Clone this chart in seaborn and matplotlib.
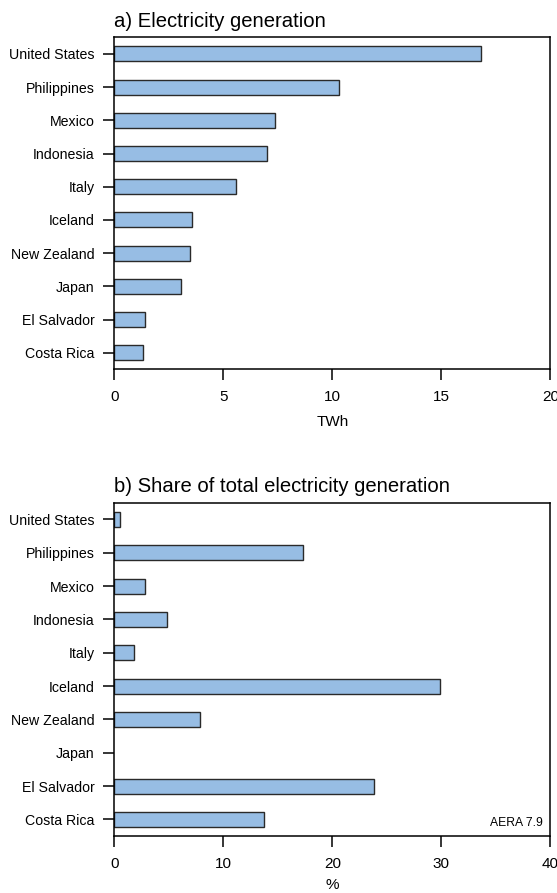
import matplotlib
matplotlib.use('Agg')
import matplotlib.pyplot as plt
import seaborn as sns
import pandas as pd

# data
countries = ['United States', 'Philippines', 'Mexico', 'Indonesia', 'Italy',
             'Iceland', 'New Zealand', 'Japan', 'El Salvador', 'Costa Rica']
generation_twh = [16.8, 10.3, 7.35, 7.0, 5.6, 3.55, 3.45, 3.05, 1.4, 1.3]
share_pct = [0.55, 17.3, 2.8, 4.85, 1.8, 29.9, 7.9, 0.0, 23.8, 13.7]

gen_ticks = [0, 5, 10, 15, 20]
share_ticks = [0, 10, 20, 30, 40]

sns.set_style('ticks')
plt.rcParams['font.family'] = ['Liberation Sans', 'DejaVu Sans']
plt.rcParams['text.color'] = 'black'
plt.rcParams['xtick.color'] = 'black'
plt.rcParams['ytick.color'] = 'black'
plt.rcParams['axes.labelcolor'] = 'black'
plt.rcParams['axes.linewidth'] = 1.1
plt.rcParams['xtick.major.width'] = 1.1
plt.rcParams['ytick.major.width'] = 1.1

bar_color = '#97bde4'
edge_color = '#2a2a2a'

df = pd.DataFrame({'country': countries, 'twh': generation_twh, 'share': share_pct})

fig = plt.figure(figsize=(5.57, 8.93), dpi=100)
ax1 = fig.add_axes([0.2052, 0.5864, 0.7828, 0.3718])
ax2 = fig.add_axes([0.2052, 0.0638, 0.7828, 0.3733])


def draw_panel(ax, col, ticks, title, xlabel, labelpad):
    sns.barplot(data=df, x=col, y='country', orient='h', color=bar_color,
                saturation=1, edgecolor=edge_color, linewidth=1.0,
                width=0.45, ax=ax)
    # no visible bar where the value is zero
    for p in ax.patches:
        if p.get_width() == 0:
            p.set_visible(False)
    ax.set_xlim(ticks[0], ticks[-1])
    ax.set_ylim(9.5, -0.5)
    ax.set_xticks(ticks)
    ax.set_xticklabels([str(t) for t in ticks], fontsize=11)
    ax.set_yticks(range(len(countries)))
    ax.set_yticklabels(countries, fontsize=10.2)
    ax.tick_params(axis='both', direction='out', length=8, color='black',
                   labelcolor='black')
    ax.tick_params(axis='y', pad=6)
    ax.tick_params(axis='x', pad=7)
    for s in ax.spines.values():
        s.set_visible(True)
        s.set_color('black')
    ax.set_ylabel('')
    ax.set_xlabel(xlabel, fontsize=11, labelpad=labelpad)
    ax.set_title(title, loc='left', fontsize=14.6, pad=7.5, color='black')


draw_panel(ax1, 'twh', gen_ticks, 'a) Electricity generation', 'TWh', 8)
draw_panel(ax2, 'share', share_ticks, 'b) Share of total electricity generation', '%', 5)

ax2.text(0.982, 0.038, 'AERA 7.9', transform=ax2.transAxes, ha='right',
         va='center', fontsize=8.7)

fig.savefig('out.png', dpi=100)
